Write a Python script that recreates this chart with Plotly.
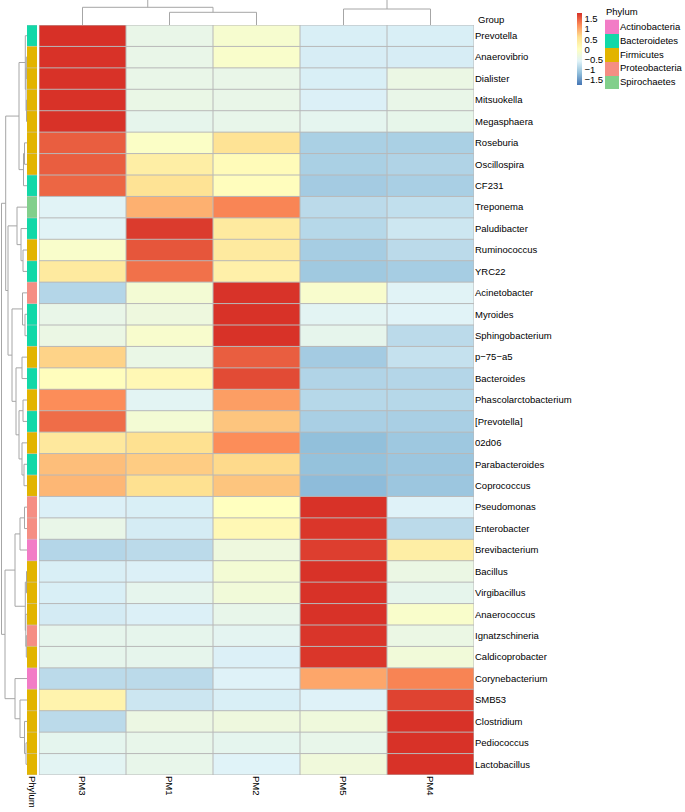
import plotly.graph_objects as go

# ---- data -------------------------------------------------------------
col_names = ["PM3", "PM1", "PM2", "PM5", "PM4"]

row_names = [
    "Prevotella", "Anaerovibrio", "Dialister", "Mitsuokella", "Megasphaera",
    "Roseburia", "Oscillospira", "CF231", "Treponema", "Paludibacter",
    "Ruminococcus", "YRC22", "Acinetobacter", "Myroides", "Sphingobacterium",
    "p−75−a5", "Bacteroides", "Phascolarctobacterium", "[Prevotella]", "02d06",
    "Parabacteroides", "Coprococcus", "Pseudomonas", "Enterobacter",
    "Brevibacterium", "Bacillus", "Virgibacillus", "Anaerococcus",
    "Ignatzschineria", "Caldicoprobacter", "Corynebacterium", "SMB53",
    "Clostridium", "Pediococcus", "Lactobacillus",
]

row_phylum = [
    "Bacteroidetes", "Firmicutes", "Firmicutes", "Firmicutes", "Firmicutes",
    "Firmicutes", "Firmicutes", "Bacteroidetes", "Spirochaetes", "Bacteroidetes",
    "Firmicutes", "Bacteroidetes", "Proteobacteria", "Bacteroidetes", "Bacteroidetes",
    "Firmicutes", "Bacteroidetes", "Firmicutes", "Bacteroidetes", "Firmicutes",
    "Bacteroidetes", "Firmicutes", "Proteobacteria", "Proteobacteria",
    "Actinobacteria", "Firmicutes", "Firmicutes", "Firmicutes",
    "Proteobacteria", "Firmicutes", "Actinobacteria", "Firmicutes",
    "Firmicutes", "Firmicutes", "Firmicutes",
]

# row-scaled abundance (z-score) per sample column
pm3 = [1.79, 1.78, 1.78, 1.78, 1.78, 1.50, 1.50, 1.45, -0.55, -0.55,
       -0.10, 0.42, -0.90, -0.40, -0.36, 0.70, 0.05, 1.20, 1.40, 0.45,
       0.85, 0.90, -0.60, -0.40, -0.90, -0.62, -0.62, -0.66, -0.45, -0.45,
       -0.85, 0.25, -0.85, -0.47, -0.52]
pm1 = [-0.40, -0.40, -0.40, -0.38, -0.45, -0.05, 0.35, 0.55, 0.95, 1.72,
       1.55, 1.38, -0.20, -0.30, -0.12, -0.38, 0.15, -0.52, -0.20, 0.60,
       0.75, 0.60, -0.62, -0.65, -0.85, -0.60, -0.46, -0.60, -0.45, -0.45,
       -0.85, -0.72, -0.35, -0.42, -0.42]
pm2 = [-0.15, -0.10, -0.40, -0.40, -0.42, 0.55, 0.10, 0.05, 1.25, 0.42,
       0.42, 0.30, 1.77, 1.78, 1.78, 1.50, 1.62, 1.08, 0.80, 1.20,
       0.65, 0.80, 0.02, 0.15, -0.30, -0.20, -0.25, -0.42, -0.50, -0.60,
       -0.58, -0.62, -0.30, -0.47, -0.57]
pm5 = [-0.62, -0.64, -0.62, -0.60, -0.48, -0.97, -0.97, -1.02, -0.85, -0.88,
       -1.00, -1.05, -0.12, -0.52, -0.45, -1.02, -0.92, -0.88, -0.98, -1.15,
       -1.13, -1.18, 1.78, 1.75, 1.70, 1.78, 1.78, 1.78, 1.76, 1.75,
       1.02, -0.58, -0.28, -0.42, -0.27]
pm4 = [-0.62, -0.64, -0.36, -0.40, -0.43, -0.97, -0.93, -0.98, -0.80, -0.71,
       -0.85, -1.00, -0.55, -0.56, -0.85, -0.77, -0.90, -0.88, -0.98, -1.06,
       -1.08, -1.08, -0.58, -0.85, 0.35, -0.36, -0.45, -0.10, -0.36, -0.25,
       1.26, 1.67, 1.78, 1.78, 1.78]

phylum_names = ["Actinobacteria", "Bacteroidetes", "Firmicutes",
                "Proteobacteria", "Spirochaetes"]
phylum_colors = ["#F27CC6", "#12D8A8", "#E2B400", "#F58E84", "#82CF8C"]

# clustering trees: (height, left, right); leaves are row / column indices
row_tree = (25.5,
            (21.3,
             (8, (1.7, 0, (1.0, (0.7, 1, 2), (0.5, 3, 4))),
                 (3.5, (2.5, 5, 6), 7)),
             (19, (10, 8, (6, 9, (4, 10, 11))),
                  (15, (4.5, 12, (2, 13, 14)),
                       (11, (5, 15, 16),
                            (8, (4, 17, 18), (5, 19, (3, 20, 21))))))),
            (22,
             (12, (7, (2.5, 22, 23), 24),
                  (1.7, (0.5, 25, 26), (1.2, 27, (0.7, 28, 29)))),
             (12, 30, (7, 31, (2.5, 32, (1, 33, 34))))))
col_tree = (2.7, (1.77, 0, (1.27, 1, 2)), (1.6, 3, 4))

# ---- helpers ----------------------------------------------------------
W, H = 685, 812


def px_x(v):
    return v / W


def px_y(v):
    return 1 - v / H


def dendro_lines(node, pos, hgt):
    if isinstance(node, int):
        return float(node), 0.0
    h, a, b = node
    pa, ha = dendro_lines(a, pos, hgt)
    pb, hb = dendro_lines(b, pos, hgt)
    pos += [pa, pa, pb, pb, None]
    hgt += [ha, h, h, hb, None]
    return (pa + pb) / 2, h


rows = list(range(len(row_names)))
cols = list(range(len(col_names)))
z = [[pm3[i], pm1[i], pm2[i], pm5[i], pm4[i]] for i in rows]

heat_scale = ["#4575B4", "#91BFDB", "#E0F3F8", "#FFFFBF",
              "#FEE090", "#FC8D59", "#D73027"]
heat_colorscale = [[k / 6, c] for k, c in enumerate(heat_scale)]

n_ph = len(phylum_names)
ph_scale = []
for k, c in enumerate(phylum_colors):
    ph_scale.append([max(0, (k - 0.5) / (n_ph - 1)), c])
    ph_scale.append([min(1, (k + 0.5) / (n_ph - 1)), c])
ph_codes = [[phylum_names.index(p)] for p in row_phylum]

font = "Liberation Sans, Arial, sans-serif"
grid_col = "#b8b8b8"
dend_col = "#a6a6a6"

heat_xdom = [px_x(39), px_x(474)]
heat_ydom = [px_y(775), px_y(25)]

fig = go.Figure()

# main heatmap
fig.add_trace(go.Heatmap(
    z=z, x=cols, y=rows, colorscale=heat_colorscale, zmin=-1.75, zmax=1.79,
    xaxis="x", yaxis="y", hoverinfo="skip",
    colorbar=dict(
        x=px_x(577), xanchor="left", y=px_y(13), yanchor="top",
        len=72, lenmode="pixels", thickness=5, outlinewidth=0,
        xpad=0, ypad=0, ticks="", tickvals=[1.5, 1, 0.5, 0, -0.5, -1, -1.5],
        tickfont=dict(size=9.5, family=font, color="black"),
    ),
))

# cell borders
gx, gy = [], []
for i in range(len(rows) + 1):
    gx += [-0.5, len(cols) - 0.5, None]
    gy += [i - 0.5, i - 0.5, None]
for j in range(len(cols) + 1):
    gx += [j - 0.5, j - 0.5, None]
    gy += [-0.5, len(rows) - 0.5, None]
fig.add_trace(go.Scatter(x=gx, y=gy, mode="lines", xaxis="x", yaxis="y",
                         line=dict(color=grid_col, width=1),
                         hoverinfo="skip", showlegend=False))

# phylum annotation column
fig.add_trace(go.Heatmap(
    z=ph_codes, x=[0], y=rows, colorscale=ph_scale, zmin=0, zmax=n_ph - 1,
    showscale=False, xaxis="x2", yaxis="y2", hoverinfo="skip",
))
ax, ay = [], []
for i in range(len(rows) + 1):
    ax += [-0.5, 0.5, None]
    ay += [i - 0.5, i - 0.5, None]
fig.add_trace(go.Scatter(x=ax, y=ay, mode="lines", xaxis="x2", yaxis="y2",
                         line=dict(color="#c8c8c8", width=0.6),
                         hoverinfo="skip", showlegend=False))

# row dendrogram
rp, rh = [], []
dendro_lines(row_tree, rp, rh)
fig.add_trace(go.Scatter(x=rh, y=rp, mode="lines", xaxis="x3", yaxis="y3",
                         line=dict(color=dend_col, width=1),
                         hoverinfo="skip", showlegend=False))

# column dendrogram
cp, ch = [], []
dendro_lines(col_tree, cp, ch)
fig.add_trace(go.Scatter(x=cp, y=ch, mode="lines", xaxis="x4", yaxis="y4",
                         line=dict(color=dend_col, width=1),
                         hoverinfo="skip", showlegend=False))

# phylum legend
fig.add_trace(go.Heatmap(
    z=[[k] for k in range(n_ph)], x=[0], y=list(range(n_ph)),
    colorscale=ph_scale, zmin=0, zmax=n_ph - 1, showscale=False,
    xaxis="x5", yaxis="y5", hoverinfo="skip",
))

hidden = dict(showgrid=False, zeroline=False, showticklabels=False,
              ticks="", showline=False)
tick_font = dict(size=9.5, family=font, color="black")

fig.update_layout(
    width=W, height=H, autosize=False,
    margin=dict(l=0, r=0, t=0, b=0),
    paper_bgcolor="white", plot_bgcolor="white",
    font=dict(family=font, size=9.5, color="black"),
    showlegend=False,
    xaxis=dict(domain=heat_xdom, range=[-0.5, 4.5],
               tickvals=cols, ticktext=col_names, tickangle=90,
               showgrid=False, zeroline=False, ticks="", tickfont=tick_font),
    yaxis=dict(domain=heat_ydom, range=[34.5, -0.5],
               tickvals=rows, ticktext=row_names, side="right",
               showgrid=False, zeroline=False, ticks="", tickfont=tick_font),
    xaxis2=dict(domain=[px_x(27), px_x(37)], range=[-0.5, 0.5], anchor="y2",
                tickvals=[0], ticktext=["Phylum"], tickangle=90,
                showgrid=False, zeroline=False, ticks="", tickfont=tick_font),
    yaxis2=dict(domain=heat_ydom, anchor="x2", matches="y", **hidden),
    xaxis3=dict(domain=[0, px_x(27)], range=[27, 0], anchor="y3", **hidden),
    yaxis3=dict(domain=heat_ydom, anchor="x3", matches="y", **hidden),
    xaxis4=dict(domain=heat_xdom, anchor="y4", matches="x", **hidden),
    yaxis4=dict(domain=[px_y(25), 1], range=[0, 2.5], anchor="x4", **hidden),
    xaxis5=dict(domain=[px_x(605), px_x(619)], range=[-0.5, 0.5],
                anchor="y5", **hidden),
    yaxis5=dict(domain=[px_y(89), px_y(19.5)], range=[4.5, -0.5],
                anchor="x5", tickvals=list(range(n_ph)),
                ticktext=phylum_names, side="right", showgrid=False,
                zeroline=False, ticks="", tickfont=tick_font),
    annotations=[
        dict(text="Group", x=px_x(476), y=px_y(19), xref="paper",
             yref="paper", xanchor="left", yanchor="middle",
             showarrow=False, font=tick_font),
        dict(text="Phylum", x=px_x(604), y=px_y(12), xref="paper",
             yref="paper", xanchor="left", yanchor="middle",
             showarrow=False, font=tick_font),
    ],
)

# the page body carries a default 8px margin; drop it so the figure fills the window
fig.write_html("out.html",
               config={"displayModeBar": False, "staticPlot": True},
               post_script="document.body.style.margin='0';")
